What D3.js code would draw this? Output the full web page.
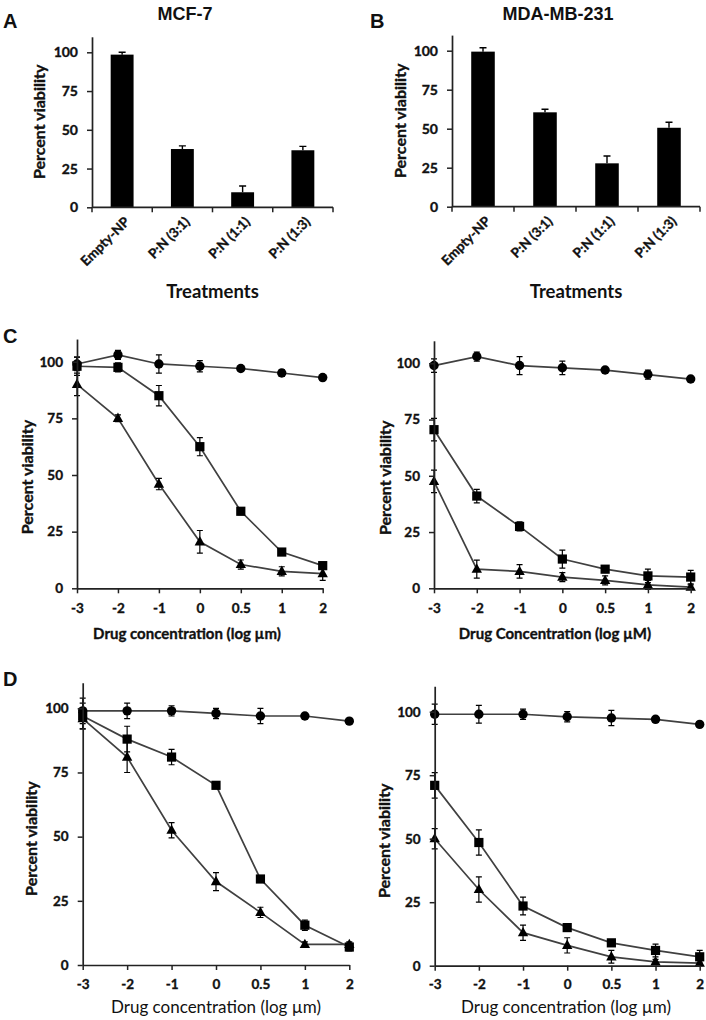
<!DOCTYPE html>
<html><head><meta charset="utf-8">
<script src="https://cdn.jsdelivr.net/npm/d3@7"></script>
<style>
body{margin:0;background:#fff;}
svg{display:block;}
text{fill:#111;}
.heavy{stroke:#111;stroke-width:0.35px;}
</style></head>
<body>
<svg id="chart" width="706" height="1020"></svg>
<script>
// ---------------- DATA ----------------
const barCategories = ["Empty-NP", "P:N (3:1)", "P:N (1:1)", "P:N (1:3)"];
const mcf7Bars = [98.5, 37.6, 9.7, 36.8];
const mcf7BarErr = [1.5, 2, 4, 2.5];
const mdaBars = [99.4, 60.5, 27.8, 50.6];
const mdaBarErr = [2.5, 2, 4.7, 3.5];
const yTicks = [0, 25, 50, 75, 100];
const concLabels = ["-3", "-2", "-1", "0", "0.5", "1", "2"];

const cMcfCircle = [99, 103, 99, 98, 97, 95, 93];
const cMcfCircleErr = [3, 2, 4, 2.5, 1, 1.5, 1];
const cMcfSquare = [98, 97.5, 85, 62.5, 34, 16, 10];
const cMcfSquareErr = [4, 2, 4.5, 4, 1.5, 1.5, 1.5];
const cMcfTriangle = [90, 75, 46, 20.5, 10.5, 7.5, 6.5];
const cMcfTriangleErr = [5, 1.5, 2.5, 5, 2, 2, 3];

const cMdaCircle = [99, 103, 99, 98, 97, 95, 93];
const cMdaCircleErr = [3, 2, 4, 3, 1, 2, 1];
const cMdaSquare = [70.5, 41, 27.5, 13, 8.5, 5.5, 5];
const cMdaSquareErr = [5, 3, 2, 4, 1, 3, 3];
const cMdaTriangle = [47.5, 8.5, 7.5, 5, 3.5, 1.5, 0.5];
const cMdaTriangleErr = [5, 4, 3, 2, 2, 2, 1];

const dMcfCircle = [99, 99, 99, 98, 97, 97, 95];
const dMcfCircleErr = [5, 3, 2, 2, 3, 1, 1];
const dMcfSquare = [97, 88, 81, 70, 33.5, 15.5, 7];
const dMcfSquareErr = [5, 5, 3, 1, 1, 2, 1.5];
const dMcfTriangle = [96, 81, 52.5, 32.5, 20.5, 8, 8];
const dMcfTriangleErr = [4, 6, 3, 3.5, 2, 1, 1];

const dMdaCircle = [99, 99, 99, 98, 97.5, 97, 95];
const dMdaCircleErr = [4, 3.5, 2, 2, 3, 1, 1];
const dMdaSquare = [71, 48.5, 23.5, 15, 9, 6, 3.5];
const dMdaSquareErr = [5, 5, 3.5, 1, 1, 2.5, 2.5];
const dMdaTriangle = [50, 30, 13, 8, 3.5, 1.5, 1];
const dMdaTriangleErr = [4, 5, 3, 3, 2.5, 1, 1];

// ---------------- DRAWING ----------------
const svg = d3.select("#chart");
const LBL = "Lato, 'Open Sans', sans-serif";
const ARIAL = "'Liberation Sans', Arial, sans-serif";
const AXC = "#222";

function styleAxis(g, fs) {
  g.select(".domain").attr("stroke", AXC).attr("stroke-width", 1.7);
  g.selectAll(".tick line").attr("stroke", AXC).attr("stroke-width", 1.5);
  g.selectAll(".tick text").attr("font-family", LBL).attr("font-weight", 700)
    .attr("font-size", fs).attr("fill", "#111").attr("class", "heavy");
}

function yAxisDraw(y, xPos, fs) {
  const g = svg.append("g").attr("transform", `translate(${xPos},0)`)
    .call(d3.axisLeft(y).tickValues(yTicks).tickSize(5).tickSizeOuter(0).tickPadding(9));
  styleAxis(g, fs);
}

function barPanel(o) {
  const x = d3.scaleBand().domain(barCategories).range([o.x0, o.x1]).padding(0);
  const y = d3.scaleLinear().domain([0, 110]).range([o.yZero, o.yZero - 1.1 * o.yPer100]);
  const bw = x.bandwidth() * 0.38;
  const g = svg.append("g");
  g.selectAll("rect.bar").data(o.values).join("rect")
    .attr("x", (d, i) => x(barCategories[i]) + x.bandwidth() / 2 - bw / 2)
    .attr("y", d => y(d)).attr("width", bw).attr("height", d => y(0) - y(d))
    .attr("fill", "#000");
  g.selectAll("path.err").data(o.values).join("path")
    .attr("d", (d, i) => {
      const cx = x(barCategories[i]) + x.bandwidth() / 2;
      const t = y(d + o.errs[i]);
      return `M${cx},${y(d)}V${t}M${cx - 3.5},${t}H${cx + 3.5}`;
    })
    .attr("stroke", "#000").attr("stroke-width", 1.4).attr("fill", "none");
  yAxisDraw(y, o.x0, 14);
  const xa = svg.append("g");
  xa.append("line").attr("x1", o.x0).attr("x2", o.x1).attr("y1", y(0)).attr("y2", y(0))
    .attr("stroke", AXC).attr("stroke-width", 1.7);
  const bounds = barCategories.map(c => x(c)).concat([o.x1]);
  xa.selectAll("line.tk").data(bounds).join("line")
    .attr("x1", d => d).attr("x2", d => d).attr("y1", y(0)).attr("y2", y(0) + 5)
    .attr("stroke", AXC).attr("stroke-width", 1.5);
  xa.selectAll("text").data(barCategories).join("text")
    .attr("transform", d => `translate(${x(d) + x.bandwidth() / 2 + 5},${y(0) + 12}) rotate(-45)`)
    .attr("text-anchor", "end").attr("dy", "0.35em").attr("class", "heavy")
    .attr("font-family", LBL).attr("font-weight", 700).attr("font-size", 13.5)
    .text(d => d);
  svg.append("text").attr("x", o.titleX).attr("y", 20).attr("text-anchor", "middle")
    .attr("font-family", ARIAL).attr("font-weight", 700).attr("font-size", 18).text(o.title);
  svg.append("text").attr("x", o.letterX).attr("y", 28)
    .attr("font-family", ARIAL).attr("font-weight", 700).attr("font-size", 20).text(o.letter);
  svg.append("text").attr("transform", `translate(${o.yTitleX},${(y(0) + y(100)) / 2 - 8}) rotate(-90)`)
    .attr("text-anchor", "middle").attr("font-family", LBL).attr("font-weight", 700)
    .attr("class", "heavy").attr("font-size", 16).text("Percent viability");
  svg.append("text").attr("x", (o.x0 + o.x1) / 2).attr("y", 298).attr("text-anchor", "middle")
    .attr("font-family", LBL).attr("font-weight", 700).attr("font-size", 18.5).text("Treatments");
}

function marker(g, type, cx, cy) {
  if (type === "circle") {
    g.append("circle").attr("cx", cx).attr("cy", cy).attr("r", 4.7).attr("fill", "#000");
  } else if (type === "square") {
    g.append("rect").attr("x", cx - 4.6).attr("y", cy - 4.6).attr("width", 9.2).attr("height", 9.2).attr("fill", "#000");
  } else {
    g.append("path").attr("d", `M${cx},${cy - 5.8}L${cx + 5.2},${cy + 3.6}L${cx - 5.2},${cy + 3.6}Z`).attr("fill", "#000");
  }
}

function linePanel(o) {
  const x = d3.scalePoint().domain(concLabels).range([o.x0, o.x1]).padding(0);
  const y = d3.scaleLinear().domain([0, 110]).range([o.yZero, o.yZero - 1.1 * o.yPer100]);
  const g = svg.append("g");
  const line = d3.line().x((d, i) => x(concLabels[i])).y(d => y(d));
  o.series.forEach(s => {
    g.append("path").datum(s.values).attr("d", line).attr("fill", "none")
      .attr("stroke", "#404040").attr("stroke-width", 1.7);
  });
  o.series.forEach(s => {
    s.values.forEach((v, i) => {
      const cx = x(concLabels[i]);
      const e = s.errs[i];
      g.append("path")
        .attr("d", `M${cx},${y(v + e)}V${y(v - e)}M${cx - 3},${y(v + e)}H${cx + 3}M${cx - 3},${y(v - e)}H${cx + 3}`)
        .attr("stroke", "#000").attr("stroke-width", 1.2).attr("fill", "none");
      marker(g, s.type, cx, y(v));
    });
  });
  yAxisDraw(y, o.x0, 13.5);
  const xg = svg.append("g").attr("transform", `translate(0,${y(0)})`)
    .call(d3.axisBottom(x).tickSize(5).tickSizeOuter(0).tickPadding(o.xPad));
  styleAxis(xg, 13.5);
  svg.append("text").attr("transform", `translate(${o.yTitleX},${(y(0) + y(100)) / 2 + 2}) rotate(-90)`)
    .attr("text-anchor", "middle").attr("font-family", LBL).attr("font-weight", 700)
    .attr("class", "heavy").attr("font-size", 16).text("Percent viability");
  const t = svg.append("text").attr("x", o.xTitleX).attr("y", o.xTitleY).attr("text-anchor", "middle")
    .attr("font-family", LBL).attr("font-weight", o.xTitleWeight).attr("font-size", o.xTitleSize)
    .text(o.xTitle);
  if (o.xTitleWeight === 700) t.attr("class", "heavy");
  if (o.letter) {
    svg.append("text").attr("x", 3).attr("y", o.letterY)
      .attr("font-family", ARIAL).attr("font-weight", 700).attr("font-size", 20).text(o.letter);
  }
}

barPanel({ x0: 92, x1: 333, yZero: 207.3, yPer100: 155, values: mcf7Bars, errs: mcf7BarErr,
  title: "MCF-7", titleX: 185, letter: "A", letterX: 3, yTitleX: 45 });
barPanel({ x0: 452, x1: 700, yZero: 206.7, yPer100: 156, values: mdaBars, errs: mdaBarErr,
  title: "MDA-MB-231", titleX: 558, letter: "B", letterX: 370, yTitleX: 406 });

linePanel({ x0: 77, x1: 322.7, yZero: 588.3, yPer100: 226.6, xPad: 10,
  series: [
    { type: "circle", values: cMcfCircle, errs: cMcfCircleErr },
    { type: "square", values: cMcfSquare, errs: cMcfSquareErr },
    { type: "triangle", values: cMcfTriangle, errs: cMcfTriangleErr }],
  yTitleX: 33, xTitle: "Drug concentration (log \u00b5m)", xTitleX: 187, xTitleY: 639,
  xTitleWeight: 700, xTitleSize: 15, letter: "C", letterY: 343 });
linePanel({ x0: 434, x1: 690.7, yZero: 588.3, yPer100: 225, xPad: 10,
  series: [
    { type: "circle", values: cMdaCircle, errs: cMdaCircleErr },
    { type: "square", values: cMdaSquare, errs: cMdaSquareErr },
    { type: "triangle", values: cMdaTriangle, errs: cMdaTriangleErr }],
  yTitleX: 391, xTitle: "Drug Concentration (log \u00b5M)", xTitleX: 555, xTitleY: 639,
  xTitleWeight: 700, xTitleSize: 15 });

linePanel({ x0: 82.7, x1: 349.3, yZero: 965, yPer100: 256.7, xPad: 9,
  series: [
    { type: "circle", values: dMcfCircle, errs: dMcfCircleErr },
    { type: "square", values: dMcfSquare, errs: dMcfSquareErr },
    { type: "triangle", values: dMcfTriangle, errs: dMcfTriangleErr }],
  yTitleX: 37, xTitle: "Drug concentration (log \u00b5m)", xTitleX: 216, xTitleY: 1013,
  xTitleWeight: 400, xTitleSize: 17, letter: "D", letterY: 686 });
linePanel({ x0: 434.7, x1: 699.7, yZero: 965.7, yPer100: 254, xPad: 9,
  series: [
    { type: "circle", values: dMdaCircle, errs: dMdaCircleErr },
    { type: "square", values: dMdaSquare, errs: dMdaSquareErr },
    { type: "triangle", values: dMdaTriangle, errs: dMdaTriangleErr }],
  yTitleX: 390, xTitle: "Drug concentration (log \u00b5m)", xTitleX: 566, xTitleY: 1013,
  xTitleWeight: 400, xTitleSize: 17 });
</script>
</body></html>
